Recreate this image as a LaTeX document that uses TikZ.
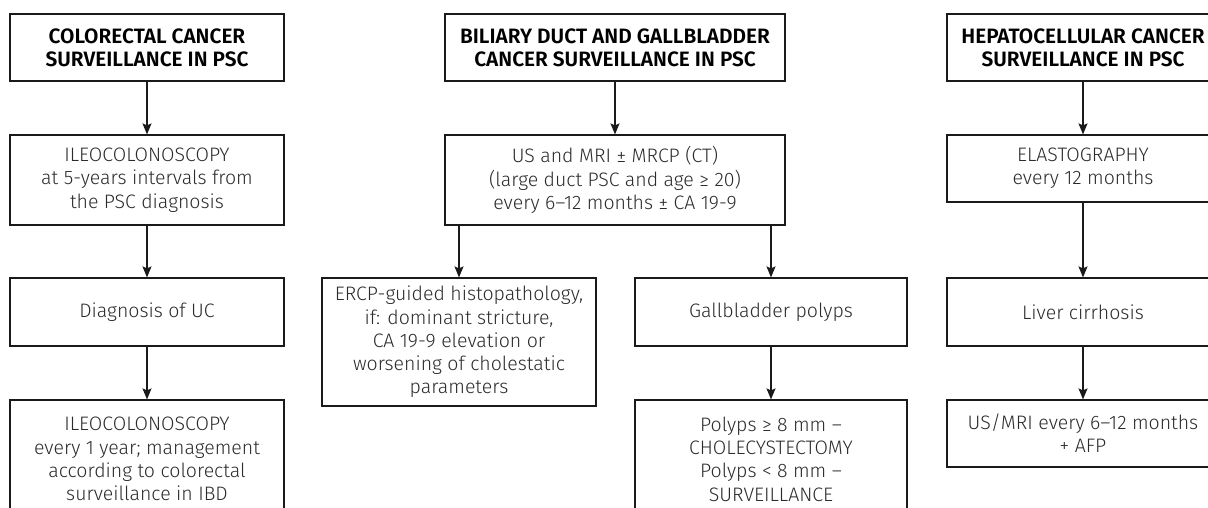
\documentclass[tikz,border=0pt]{standalone}
\usepackage{fontspec}
\setmainfont{Fira Sans Light}[BoldFont={Fira Sans SemiBold}]
\usetikzlibrary{arrows.meta}
\definecolor{txt}{HTML}{2B2B2B}
\definecolor{ln}{HTML}{1A1A1A}
\tikzset{
  box/.style={draw=ln, line width=1.2pt, inner sep=0pt, align=center, text=txt,
    font=\fontsize{19.5}{23.3}\selectfont},
  ttl/.style={box, font=\fontsize{20.8}{23.3}\selectfont\bfseries, text=black},
  arr/.style={draw=ln, line width=1.2pt, -{Stealth[length=11pt,width=9pt,inset=2pt]}}
}
\begin{document}
\begin{tikzpicture}[x=1pt,y=-1pt]
\useasboundingbox (0,0) rectangle (1208,507);
\clip (0,0) rectangle (1208,507);
% column 1
\node[ttl, minimum width=274pt, minimum height=67pt] (t1) at (147,47.5) {COLORECTAL CANCER\\SURVEILLANCE IN PSC};
\node[box, minimum width=274pt, minimum height=90pt] (a1) at (147,180) {ILEOCOLONOSCOPY\\at 5-years intervals from\\the PSC diagnosis};
\node[box, minimum width=274pt, minimum height=68pt] (a2) at (147,312) {Diagnosis of UC};
\node[box, minimum width=274pt, minimum height=118pt] (a3) at (147,459) {ILEOCOLONOSCOPY\\every 1 year; management\\according to colorectal\\surveillance in IBD};
% column 2
\node[ttl, minimum width=340pt, minimum height=67pt] (t2) at (615,47.5) {BILIARY DUCT AND GALLBLADDER\\CANCER SURVEILLANCE IN PSC};
\node[box, minimum width=340pt, minimum height=90pt] (b1) at (615,180) {US and MRI ± MRCP (CT)\\(large duct PSC and age ≥ 20)\\every 6–12 months ± CA 19-9};
\node[box, minimum width=274pt, minimum height=128pt] (b2) at (459,342) {ERCP-guided histopathology,\\if: dominant stricture,\\CA 19-9 elevation or\\worsening of cholestatic\\parameters};
\node[box, minimum width=272pt, minimum height=68pt] (b3) at (771,312) {Gallbladder polyps};
\node[box, minimum width=272pt, minimum height=118pt] (b4) at (771,459) {Polyps ≥ 8 mm –\\CHOLECYSTECTOMY\\Polyps < 8 mm –\\SURVEILLANCE};
% column 3
\node[ttl, minimum width=272pt, minimum height=67pt] (t3) at (1083,47.5) {HEPATOCELLULAR CANCER\\SURVEILLANCE IN PSC};
\node[box, minimum width=272pt, minimum height=67pt] (c1) at (1083,168.5) {ELASTOGRAPHY\\every 12 months};
\node[box, minimum width=272pt, minimum height=68pt] (c2) at (1083,312) {Liver cirrhosis};
\node[box, minimum width=272pt, minimum height=67pt] (c3) at (1083,433.5) {US/MRI every 6–12 months\\+ AFP};
% arrows
\draw[arr] (t1) -- (a1);
\draw[arr] (a1) -- (a2);
\draw[arr] (a2) -- (a3);
\draw[arr] (t2) -- (b1);
\draw[arr] (b1.south -| b2.north) -- (b2.north);
\draw[arr] (b1.south -| b3.north) -- (b3.north);
\draw[arr] (b3) -- (b4);
\draw[arr] (t3) -- (c1);
\draw[arr] (c1) -- (c2);
\draw[arr] (c2) -- (c3);
\end{tikzpicture}
\end{document}
